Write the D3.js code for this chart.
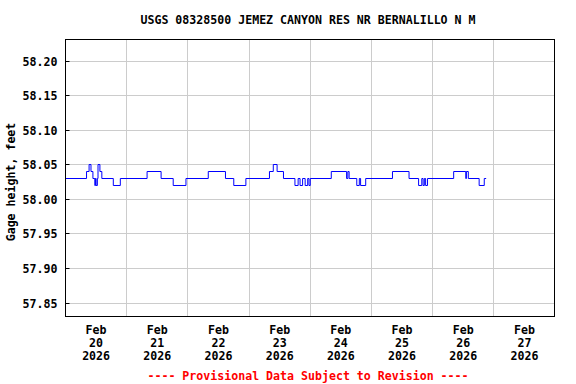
<!DOCTYPE html>
<html><head><meta charset="utf-8">
<script src="https://cdn.jsdelivr.net/npm/d3@7"></script>
<style>
html,body{margin:0;padding:0;background:#fff;}
text{font-family:"DejaVu Sans Mono",monospace;font-weight:bold;}
</style></head>
<body><svg id="c" width="576" height="384"></svg>
<script>
// ---- data ----
const title = "USGS 08328500 JEMEZ CANYON RES NR BERNALILLO N M";
const yLabel = "Gage height, feet";
const footer = "---- Provisional Data Subject to Revision ----";
const yTicks = [57.85, 57.90, 57.95, 58.00, 58.05, 58.10, 58.15, 58.20];
const xDays = ["2026-02-20","2026-02-21","2026-02-22","2026-02-23","2026-02-24","2026-02-25","2026-02-26","2026-02-27"];
const xTickMonth = ["Feb","Feb","Feb","Feb","Feb","Feb","Feb","Feb"];
const xTickDay = ["20","21","22","23","24","25","26","27"];
const xTickYear = ["2026","2026","2026","2026","2026","2026","2026","2026"];
// hours since 2026-02-20 00:00 at which gage height changes
const changeHours = [0,8.25,9.25,10.0,10.75,11.5,11.75,12.0,12.5,12.75,13.5,14.25,18.75,21.5,32.0,37.5,42.25,47.25,56.0,62.75,66.0,70.75,80.0,81.5,83.0,85.5,90.0,91.25,92.0,93.0,94.0,95.0,95.5,96.0,104.25,110.25,110.75,111.25,114.25,115.25,115.75,117.75,128.25,134.75,138.5,139.75,140.25,140.75,141.25,142.0,152.25,157.0,157.25,158.0,162.25,164.25,165.0];
const gageHeight = [58.03,58.04,58.05,58.04,58.03,58.02,58.03,58.02,58.03,58.05,58.04,58.03,58.02,58.03,58.04,58.03,58.02,58.03,58.04,58.03,58.02,58.03,58.04,58.05,58.04,58.03,58.02,58.03,58.02,58.03,58.02,58.03,58.02,58.03,58.04,58.03,58.04,58.03,58.02,58.03,58.02,58.03,58.04,58.03,58.02,58.03,58.02,58.03,58.02,58.03,58.04,58.03,58.04,58.03,58.02,58.03,58.03];

// ---- chart ----
const svg = d3.select("#c");
const parse = d3.utcParse("%Y-%m-%d");
const start = parse("2026-02-20"), end = parse("2026-02-28");
const L = 65.5, R = 554.5, T = 39.5, B = 316.5;
const x = d3.scaleUtc().domain([start, end]).range([65.5, 555]);
const y = d3.scaleLinear().domain([57.85, 58.20]).range([303, 61]);
const snap = v => Math.round(v - 0.5) + 0.5;

// gridlines
const g = svg.append("g");
g.selectAll("line.h").data(yTicks).join("line")
  .attr("x1", L).attr("x2", R)
  .attr("y1", d => snap(y(d))).attr("y2", d => snap(y(d)))
  .attr("stroke", "#cccccc").attr("stroke-width", 1);
const mids = d3.utcDay.range(d3.utcDay.offset(start, 1), end);
g.selectAll("line.v").data(mids).join("line")
  .attr("x1", d => snap(x(d))).attr("x2", d => snap(x(d)))
  .attr("y1", T).attr("y2", B)
  .attr("stroke", "#cccccc").attr("stroke-width", 1);

// y tick marks
g.selectAll("line.t").data(yTicks).join("line")
  .attr("x1", L).attr("x2", L + 4)
  .attr("y1", d => snap(y(d))).attr("y2", d => snap(y(d)))
  .attr("stroke", "#000").attr("stroke-width", 1);

// data line
const pts = changeHours.map((h, i) => [d3.utcMinute.offset(start, Math.round(h * 60)), gageHeight[i]]);
svg.append("path").datum(pts)
  .attr("fill", "none").attr("stroke", "#0000ff").attr("stroke-width", 1)
  .attr("d", d3.line().curve(d3.curveStepAfter).x(d => x(d[0])).y(d => snap(y(d[1]))));

// frame
svg.append("rect").attr("x", L).attr("y", T).attr("width", R - L).attr("height", B - T)
  .attr("fill", "none").attr("stroke", "#000").attr("stroke-width", 1);

// y tick labels
svg.selectAll("text.yl").data(yTicks).join("text")
  .attr("x", 57.5).attr("y", d => y(d) + 4.5)
  .attr("text-anchor", "end").attr("font-size", 11.6)
  .text(d => d.toFixed(2));

// x tick labels
const xl = svg.append("g");
xDays.forEach((d, i) => {
  const cx = x(d3.utcHour.offset(parse(d), 12));
  const t = xl.append("text").attr("text-anchor", "middle").attr("font-size", 11.6);
  t.append("tspan").attr("x", cx).attr("y", 334).text(xTickMonth[i]);
  t.append("tspan").attr("x", cx).attr("y", 347).text(xTickDay[i]);
  t.append("tspan").attr("x", cx).attr("y", 360).text(xTickYear[i]);
});

// title
svg.append("text").attr("x", 308).attr("y", 24).attr("text-anchor", "middle")
  .attr("font-size", 11.6).text(title);
// y-axis label
svg.append("text").attr("transform", "translate(15,182) rotate(-90)")
  .attr("text-anchor", "middle").attr("font-size", 11.6).text(yLabel);
// footer
svg.append("text").attr("x", 308).attr("y", 380).attr("text-anchor", "middle")
  .attr("font-size", 11.6).attr("fill", "#ff0000").text(footer);
</script></body></html>
